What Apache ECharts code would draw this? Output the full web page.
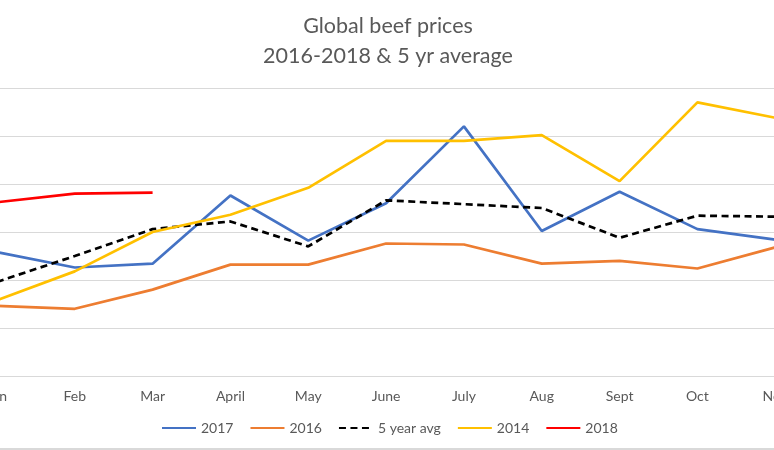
<!DOCTYPE html>
<html>
<head>
<meta charset="utf-8">
<script src="https://cdn.jsdelivr.net/npm/echarts@6/dist/echarts.min.js"></script>
<style>
  html, body { margin: 0; padding: 0; background: #fff; overflow: hidden; width: 774px; height: 450px; }
  #chart { position: absolute; left: -42px; top: 0; width: 934px; height: 450px; }
</style>
</head>
<body>
<div id="chart"></div>
<script>
// 月份
const months = ['Jan', 'Feb', 'Mar', 'April', 'May', 'June', 'July', 'Aug', 'Sept', 'Oct', 'Nov', 'Dec'];
// 各年份价格
const y2017 = [429, 413, 417, 488, 441, 480, 560, 451, 492, 453, 442, 445];
const y2016 = [373, 370, 390, 416, 416, 438, 437, 417, 420, 412, 434, 430];
const avg5 = [398, 425, 453, 461, 435, 483, 479, 475, 444, 467, 466, 460];
const y2014 = [379, 409, 450, 468, 496, 545, 545, 551, 503, 585, 569, 560];
const y2018 = [481, 490, 491];

const txt = '#595959';
const font = 'Lato, "Open Sans", sans-serif';
// 容器相对视口左移 42px
const shift = 42;

const mkLine = (name, data, color, dashed) => ({
      name,
      type: 'line',
      data,
      symbol: 'none',
      lineStyle: { color, width: 2.7, type: dashed ? [7, 4.5] : 'solid', cap: 'butt' },
      itemStyle: { color }
});

const chart = echarts.init(document.getElementById('chart'));
chart.setOption({
      animation: false,
      backgroundColor: '#fff',
      title: {
            text: 'Global beef prices\n2016-2018 & 5 yr average',
            left: 383 + shift,
            textAlign: 'center',
            top: 6,
            textStyle: { color: txt, fontSize: 21.5, fontWeight: 'normal', fontFamily: font, lineHeight: 30 }
      },
      legend: {
            data: ['2017', '2016', '5 year avg', '2014', '2018'],
            left: 156 + shift,
            top: 416,
            itemWidth: 34,
            itemHeight: 14,
            itemGap: 16,
            itemStyle: { opacity: 0 },
            textStyle: { color: txt, fontSize: 14, fontFamily: font }
      },
      grid: { left: 0, right: 0, top: 88, bottom: 74, containLabel: false },
      xAxis: {
            type: 'category',
            data: months,
            boundaryGap: true,
            axisLine: { lineStyle: { color: '#d9d9d9', width: 1 } },
            axisTick: { show: false },
            axisLabel: { color: txt, fontSize: 14, fontFamily: font, margin: 13, interval: 0 }
      },
      yAxis: {
            type: 'value',
            min: 300,
            max: 600,
            interval: 50,
            axisLabel: { show: false },
            axisLine: { show: false },
            axisTick: { show: false },
            splitLine: { lineStyle: { color: '#d9d9d9', width: 1 } }
      },
      graphic: [{
            type: 'rect',
            shape: { x: 0, y: 448, width: 934, height: 2 },
            style: { fill: '#d9d9d9' },
            silent: true
      }],
      series: [
            mkLine('2017', y2017, '#4472C4'),
            mkLine('2016', y2016, '#ED7D31'),
            mkLine('5 year avg', avg5, '#000000', true),
            mkLine('2014', y2014, '#FFC000'),
            mkLine('2018', y2018, '#FF0000')
      ]
});
</script>
</body>
</html>
